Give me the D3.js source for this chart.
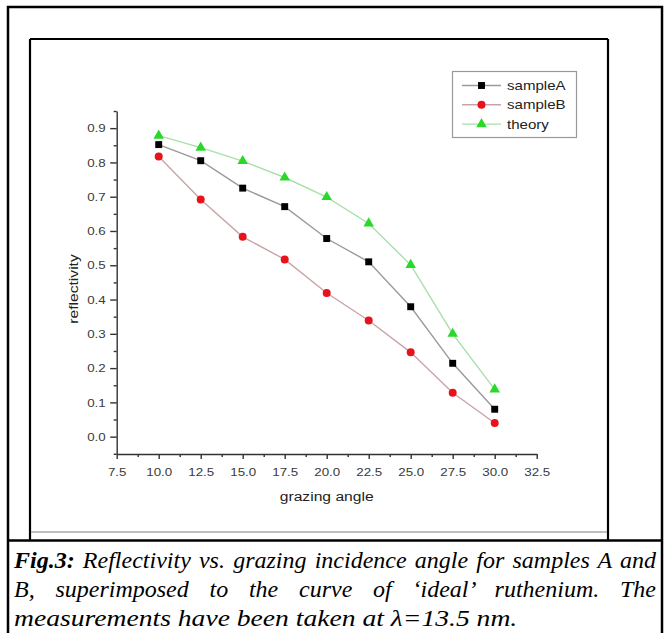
<!DOCTYPE html>
<html>
<head>
<meta charset="utf-8">
<script src="https://cdn.jsdelivr.net/npm/d3@7"></script>
<style>
  body { margin: 0; background: #fff; }
  #wrap { position: relative; width: 670px; height: 633px; overflow: hidden; }
  svg { position: absolute; left: 0; top: 0; }
  .cap { position: absolute; left: 14px; width: 642px; font-family: "Liberation Serif", "Times New Roman", serif;
         font-style: italic; font-size: 24px; line-height: 29px; color: #000; white-space: nowrap; }
  .just { text-align: justify; text-align-last: justify; white-space: normal; }
</style>
</head>
<body>
<div id="wrap">
<svg id="fig" width="670" height="633"></svg>
<div class="cap just" style="top:546px"><b>Fig.3:</b> Reflectivity vs. grazing incidence angle for samples A and</div>
<div class="cap just" style="top:575px">B, superimposed to the curve of ‘ideal’ ruthenium. The</div>
<div class="cap" style="top:604px; transform: scaleX(1.15); transform-origin: 0 0">measurements have been taken at λ=13.5 nm.</div>
</div>
<script>
// data
var angles = [10, 12.5, 15, 17.5, 20, 22.5, 25, 27.5, 30];
var sampleA = [0.852, 0.805, 0.725, 0.671, 0.578, 0.510, 0.379, 0.214, 0.080];
var sampleB = [0.817, 0.692, 0.583, 0.517, 0.419, 0.339, 0.246, 0.128, 0.040];
var theory = [0.878, 0.843, 0.804, 0.756, 0.699, 0.622, 0.501, 0.300, 0.138];
var seriesNames = ['sampleA', 'sampleB', 'theory'];
var xTicks = [7.5, 10, 12.5, 15, 17.5, 20, 22.5, 25, 27.5, 30, 32.5];
var yTicks = [0, 0.1, 0.2, 0.3, 0.4, 0.5, 0.6, 0.7, 0.8, 0.9];

var svg = d3.select('#fig');
var SX = 1.16; // text in the figure is a bit stretched sideways

// frames
svg.append('rect').attr('x', 8).attr('y', 7).attr('width', 654).attr('height', 640)
    .attr('fill', 'none').attr('stroke', '#000').attr('stroke-width', 2.5);
svg.append('line').attr('x1', 30).attr('x2', 30).attr('y1', 39).attr('y2', 540).attr('stroke', '#000').attr('stroke-width', 2.2);
svg.append('line').attr('x1', 608).attr('x2', 608).attr('y1', 39).attr('y2', 540).attr('stroke', '#000').attr('stroke-width', 2.2);
svg.append('line').attr('x1', 30).attr('x2', 608).attr('y1', 39).attr('y2', 39).attr('stroke', '#000').attr('stroke-width', 2.2);
svg.append('line').attr('x1', 31).attr('x2', 607).attr('y1', 532).attr('y2', 532).attr('stroke', '#aaa').attr('stroke-width', 1.5);
svg.append('line').attr('x1', 8).attr('x2', 662).attr('y1', 540.5).attr('y2', 540.5).attr('stroke', '#000').attr('stroke-width', 2.5);

var x = d3.scaleLinear().domain([7.5, 32.5]).range([116.7, 536.7]);
var y = d3.scaleLinear().domain([-0.05, 0.95]).range([453.8, 111]);

var fmt = d3.format('.1f');
var tickFont = 'Liberation Sans, Arial, sans-serif';

// x axis
var gx = svg.append('g').attr('transform', 'translate(0,454)');
gx.call(d3.axisBottom(x).tickValues(xTicks).tickFormat(fmt).tickSize(5).tickSizeOuter(0));
gx.append('g').call(d3.axisBottom(x).tickValues(d3.range(8.75, 32.5, 2.5)).tickFormat('').tickSize(3).tickSizeOuter(0))
    .select('.domain').remove();
gx.selectAll('.tick text').attr('y', 0).attr('transform', 'translate(0,18) scale(' + SX + ',1)')
    .attr('dy', '0.32em').attr('font-size', 11.5).attr('font-family', tickFont).attr('fill', '#3a3a3a');

// y axis
var gy = svg.append('g').attr('transform', 'translate(116.7,0)');
gy.call(d3.axisLeft(y).tickValues(yTicks).tickFormat(fmt).tickSize(6.5).tickSizeOuter(0));
gy.append('g').call(d3.axisLeft(y).tickValues(d3.range(-0.05, 0.96, 0.1)).tickFormat('').tickSize(3).tickSizeOuter(0))
    .select('.domain').remove();
gy.selectAll('.tick text').attr('x', 0).attr('transform', 'translate(-11,0) scale(' + SX + ',1)')
    .attr('font-size', 11.5).attr('font-family', tickFont).attr('fill', '#3a3a3a');
svg.selectAll('.domain, .tick line').attr('stroke', '#333').attr('stroke-width', 1.4);

// axis titles
svg.append('text').attr('transform', 'translate(326.7,501) scale(' + SX + ',1)').attr('text-anchor', 'middle')
    .attr('font-family', tickFont).attr('font-size', 13.5).attr('fill', '#222').text('grazing angle');
svg.append('text').attr('transform', 'translate(78,289) rotate(-90) scale(' + SX + ',1)').attr('text-anchor', 'middle')
    .attr('font-family', tickFont).attr('font-size', 13.5).attr('fill', '#222').text('reflectivity');

// series
var series = [
  { name: seriesNames[0], vals: sampleA, line: '#9a9a9a', fill: '#000', sym: d3.symbolSquare, size: 48 },
  { name: seriesNames[1], vals: sampleB, line: '#c8a4a8', fill: '#e8121a', sym: d3.symbolCircle, size: 50 },
  { name: seriesNames[2], vals: theory, line: '#a8e0a8', fill: '#2ad82a', sym: d3.symbolTriangle, size: 48 }
];
var line = d3.line().x(function (d) { return x(d[0]); }).y(function (d) { return y(d[1]); });

series.forEach(function (s) {
  var pts = angles.map(function (a, i) { return [a, s.vals[i]]; });
  svg.append('path').attr('d', line(pts)).attr('fill', 'none').attr('stroke', s.line).attr('stroke-width', 1.4);
  svg.selectAll(null).data(pts).enter().append('path')
      .attr('d', d3.symbol().type(s.sym).size(s.size))
      .attr('transform', function (d) { return 'translate(' + x(d[0]) + ',' + y(d[1]) + ')'; })
      .attr('fill', s.fill);
});

// legend
var lg = svg.append('g');
lg.append('rect').attr('x', 452.5).attr('y', 71.5).attr('width', 124).attr('height', 66)
    .attr('fill', '#fff').attr('stroke', '#999').attr('stroke-width', 1.2);
series.forEach(function (s, i) {
  var ly = 85.5 + i * 19.3;
  lg.append('line').attr('x1', 462).attr('x2', 501).attr('y1', ly).attr('y2', ly).attr('stroke', s.line).attr('stroke-width', 1.4);
  lg.append('path').attr('d', d3.symbol().type(s.sym).size(s.size)).attr('transform', 'translate(481.5,' + ly + ')').attr('fill', s.fill);
  lg.append('text').attr('transform', 'translate(507,' + (ly + 4.5) + ') scale(' + SX + ',1)')
      .attr('font-family', tickFont).attr('font-size', 13).attr('fill', '#222').text(s.name);
});
</script>
</body>
</html>
